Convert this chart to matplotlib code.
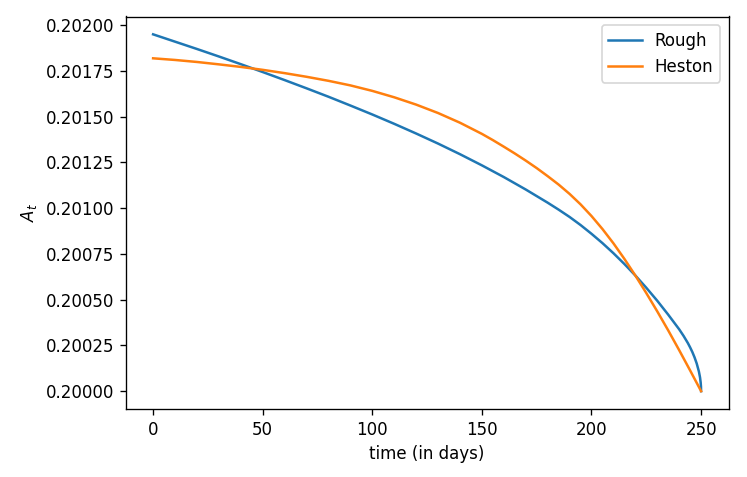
import matplotlib
matplotlib.use("Agg")
import matplotlib.pyplot as plt
from matplotlib.ticker import FormatStrFormatter

# Rough model A_t
rough_days = [0, 10, 20, 30, 40, 50, 60, 70, 80, 90, 100, 110, 120, 130, 140, 150,
              160, 170, 180, 185, 190, 195, 200, 205, 210, 215, 220, 225, 230, 235,
              240, 242, 244, 245, 246, 247, 248, 249, 249.5, 249.8, 249.95, 250]
rough_vals = [0.201950, 0.201910, 0.201870, 0.201829, 0.201787, 0.201744, 0.201700,
              0.201655, 0.201609, 0.201561, 0.201512, 0.201461, 0.201408, 0.201353,
              0.201295, 0.201234, 0.201170, 0.201102, 0.201030, 0.200992, 0.200952,
              0.200908, 0.200860, 0.200809, 0.200754, 0.200695, 0.200632, 0.200565,
              0.200494, 0.200418, 0.200338, 0.200302, 0.200262, 0.200239, 0.200214,
              0.200185, 0.200151, 0.200107, 0.200076, 0.200048, 0.200024, 0.200000]

# Heston model A_t
heston_days = [0, 10, 20, 30, 40, 50, 60, 70, 80, 90, 100, 110, 120, 130, 140, 150,
               155, 160, 165, 170, 175, 180, 185, 190, 195, 200, 205, 210, 215, 220,
               225, 230, 235, 240, 245, 250]
heston_vals = [0.201819, 0.201810, 0.201799, 0.201786, 0.201772, 0.201756, 0.201738,
               0.201718, 0.201696, 0.201671, 0.201641, 0.201606, 0.201566, 0.201520,
               0.201467, 0.201406, 0.201372, 0.201336, 0.201299, 0.201260, 0.201219,
               0.201175, 0.201129, 0.201078, 0.201021, 0.200957, 0.200886, 0.200808,
               0.200723, 0.200632, 0.200536, 0.200436, 0.200332, 0.200224, 0.200113,
               0.200000]

y_ticks = [0.20000, 0.20025, 0.20050, 0.20075, 0.20100, 0.20125, 0.20150, 0.20175, 0.20200]

fig = plt.figure(figsize=(747 / 120, 477 / 120), dpi=120)
ax = fig.add_axes([125.7 / 747, 1 - 409 / 477, (728.5 - 125.7) / 747, (409 - 16.5) / 477])

ax.plot(rough_days, rough_vals, label="Rough", color="#1f77b4", lw=1.5)
ax.plot(heston_days, heston_vals, label="Heston", color="#ff7f0e", lw=1.5)

ax.set_yticks(y_ticks)
ax.yaxis.set_major_formatter(FormatStrFormatter("%.5f"))
ax.set_xlabel("time (in days)")
ax.set_ylabel("$A_t$")
ax.legend(loc="upper right")

fig.savefig("out.png", dpi=120)
